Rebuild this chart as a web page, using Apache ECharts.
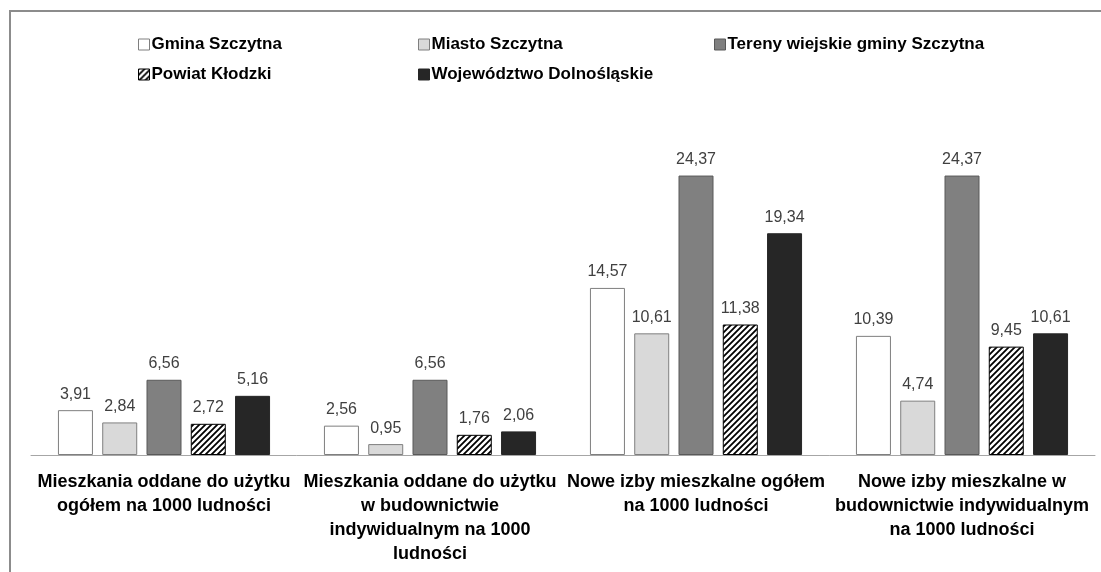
<!DOCTYPE html>
<html>
<head>
<meta charset="utf-8">
<script src="https://cdn.jsdelivr.net/npm/echarts@6/dist/echarts.min.js"></script>
<style>
  html, body { margin: 0; padding: 0; background: #fff; }
  #chart { width: 1101px; height: 572px; }
</style>
</head>
<body>
<div id="chart"></div>
<script>
// dane
const categories = [
  'Mieszkania oddane do użytku\nogółem na 1000 ludności',
  'Mieszkania oddane do użytku\nw budownictwie\nindywidualnym na 1000\nludności',
  'Nowe izby mieszkalne ogółem\nna 1000 ludności',
  'Nowe izby mieszkalne w\nbudownictwie indywidualnym\nna 1000 ludności'
]
const seriesNames = [
  'Gmina Szczytna',
  'Miasto Szczytna',
  'Tereny wiejskie gminy Szczytna',
  'Powiat Kłodzki',
  'Województwo Dolnośląskie'
]
const gmina = [3.91, 2.56, 14.57, 10.39]
const miasto = [2.84, 0.95, 10.61, 4.74]
const tereny = [6.56, 6.56, 24.37, 24.37]
const powiat = [2.72, 1.76, 11.38, 9.45]
const wojewodztwo = [5.16, 2.06, 19.34, 10.61]

// kreskowanie
function hatch() {
  const c = document.createElement('canvas')
  c.width = 6
  c.height = 6
  const ctx = c.getContext('2d')
  ctx.fillStyle = '#fff'
  ctx.fillRect(0, 0, 6, 6)
  ctx.strokeStyle = '#000'
  ctx.lineWidth = 1.8
  ctx.beginPath()
  ctx.moveTo(0, 6); ctx.lineTo(6, 0)
  ctx.moveTo(-3, 3); ctx.lineTo(3, -3)
  ctx.moveTo(3, 9); ctx.lineTo(9, 3)
  ctx.stroke()
  return c
}

const styles = [
  { color: '#ffffff', borderColor: '#7f7f7f' },
  { color: '#d9d9d9', borderColor: '#7f7f7f' },
  { color: '#808080', borderColor: '#595959' },
  { color: { image: hatch(), repeat: 'repeat' }, borderColor: '#000000' },
  { color: '#262626', borderColor: '#262626' }
]
const values = [gmina, miasto, tereny, powiat, wojewodztwo]

const font = 'Liberation Sans'
const chart = echarts.init(document.getElementById('chart'))
chart.setOption({
  animation: false,
  textStyle: { fontFamily: font },
  graphic: [{
    type: 'rect',
    shape: { x: 10, y: 11, width: 1200, height: 700 },
    style: { fill: 'none', stroke: '#8c8c8c', lineWidth: 2 },
    silent: true
  }],
  legend: [
    { data: [seriesNames[0], seriesNames[3]], left: 133, top: 31 },
    { data: [seriesNames[1], seriesNames[4]], left: 413, top: 31 },
    { data: [seriesNames[2]], left: 709, top: 31 }
  ].map(l => Object.assign(l, {
    orient: 'vertical',
    icon: 'rect',
    itemWidth: 11,
    itemHeight: 11,
    itemGap: 13,
    itemStyle: { borderWidth: 1 },
    textStyle: { fontFamily: font, fontSize: 17, fontWeight: 'bold', color: '#000', padding: [0, 0, 0, -3] }
  })),
  grid: { left: 31, right: 6, top: 111, bottom: 117 },
  xAxis: {
    type: 'category',
    data: categories,
    axisLine: { lineStyle: { color: '#a6a6a6', width: 1 } },
    axisTick: { show: false },
    axisLabel: {
      interval: 0,
      margin: 15,
      color: '#000',
      fontFamily: font,
      fontSize: 18,
      fontWeight: 'bold',
      lineHeight: 24
    }
  },
  yAxis: {
    type: 'value',
    min: 0,
    max: 30,
    show: false
  },
  series: seriesNames.map((name, i) => ({
    name: name,
    type: 'bar',
    data: values[i],
    barWidth: 35,
    barGap: '26.5%',
    itemStyle: Object.assign({ borderWidth: 1 }, styles[i]),
    label: {
      show: true,
      position: 'top',
      distance: 8,
      color: '#404040',
      fontFamily: font,
      fontSize: 16,
      formatter: p => p.value.toFixed(2).replace('.', ',')
    }
  }))
})
</script>
</body>
</html>
